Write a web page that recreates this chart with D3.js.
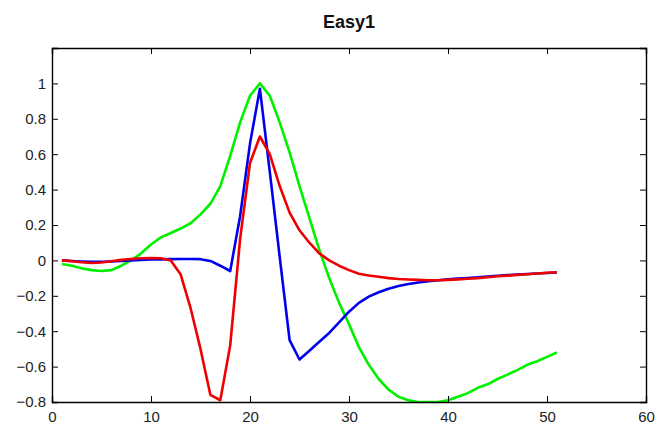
<!DOCTYPE html>
<html>
<head>
<meta charset="utf-8">
<script src="https://cdn.jsdelivr.net/npm/d3@7"></script>
<style>
  html, body { margin: 0; padding: 0; background: #fff; }
  svg { display: block; }
</style>
</head>
<body>
<svg id="chart" width="660" height="430"></svg>
<script>
const title = "Easy1";
const xValues = d3.range(1, 52);
const greenSeries = [-0.02,-0.03,-0.045,-0.055,-0.06,-0.055,-0.03,0.0,0.04,0.09,
  0.13,0.155,0.18,0.21,0.26,0.32,0.42,0.59,0.78,0.93,
  1.0,0.93,0.78,0.61,0.42,0.24,0.06,-0.1,-0.24,-0.36,
  -0.49,-0.59,-0.67,-0.73,-0.77,-0.79,-0.80,-0.80,-0.80,-0.79,
  -0.77,-0.75,-0.72,-0.70,-0.67,-0.645,-0.62,-0.59,-0.57,-0.545,-0.52];
const blueSeries = [0.0,-0.003,-0.006,-0.008,-0.008,-0.006,-0.003,0.0,0.003,0.005,
  0.006,0.007,0.008,0.008,0.007,-0.003,-0.03,-0.06,0.25,0.66,
  0.97,0.50,0.02,-0.45,-0.56,-0.51,-0.46,-0.41,-0.35,-0.29,
  -0.24,-0.205,-0.18,-0.16,-0.145,-0.133,-0.125,-0.118,-0.112,-0.107,
  -0.103,-0.099,-0.095,-0.091,-0.087,-0.083,-0.08,-0.077,-0.074,-0.071,-0.068];
const redSeries = [0.0,-0.005,-0.01,-0.015,-0.012,-0.005,0.003,0.008,0.012,0.013,
  0.012,0.0,-0.08,-0.27,-0.5,-0.76,-0.79,-0.48,0.12,0.55,
  0.70,0.60,0.42,0.27,0.17,0.10,0.04,0.0,-0.03,-0.055,
  -0.075,-0.085,-0.092,-0.1,-0.105,-0.108,-0.11,-0.112,-0.112,-0.11,
  -0.107,-0.104,-0.1,-0.095,-0.09,-0.086,-0.082,-0.078,-0.074,-0.07,-0.067];
const seriesNames = ["green", "blue", "red"];
const seriesColors = ["#00f000", "#0000ee", "#ee0000"];
const xTicks = [0, 10, 20, 30, 40, 50, 60];
const yTicks = [-0.8, -0.6, -0.4, -0.2, 0, 0.2, 0.4, 0.6, 0.8, 1];
const yTickMarks = [-0.8, -0.6, -0.4, -0.2, 0, 0.2, 0.4, 0.6, 0.8, 1, 1.2];

const svg = d3.select("#chart");
const m = { left: 52, right: 14, top: 48, bottom: 28 };
const W = 660, H = 430;
const x = d3.scaleLinear().domain([0, 60]).range([m.left, W - m.right]);
const y = d3.scaleLinear().domain([-0.8, 1.2]).range([H - m.bottom, m.top]);
const font = "'Liberation Sans', Arial, Helvetica, sans-serif";

svg.append("text")
  .attr("x", (x.range()[0] + x.range()[1]) / 2)
  .attr("y", 28)
  .attr("text-anchor", "middle")
  .attr("font-family", font)
  .attr("font-weight", "bold")
  .attr("font-size", 18)
  .attr("fill", "#111")
  .text(title);

const clip = svg.append("clipPath").attr("id", "clip")
  .append("rect")
  .attr("x", x.range()[0]).attr("y", y.range()[1])
  .attr("width", x.range()[1] - x.range()[0])
  .attr("height", y.range()[0] - y.range()[1]);

const allSeries = [greenSeries, blueSeries, redSeries];
const line = d3.line().x((d, i) => x(xValues[i])).y(d => y(d)).curve(d3.curveLinear);
const g = svg.append("g").attr("clip-path", "url(#clip)");
allSeries.forEach((s, k) => {
  g.append("path")
    .datum(s)
    .attr("class", "series-" + seriesNames[k])
    .attr("d", line)
    .attr("fill", "none")
    .attr("stroke", seriesColors[k])
    .attr("stroke-width", 2.6)
    .attr("stroke-linejoin", "round");
});

const fmt = v => (v < 0 ? "\u2212" : "") + d3.format("")(Math.abs(+v.toFixed(1)));
const tickLen = 6;

const axB = svg.append("g").attr("transform", `translate(0,${y.range()[0]})`)
  .call(d3.axisBottom(x).tickValues(xTicks).tickSize(-tickLen).tickPadding(9).tickFormat(d3.format("d")));
const axT = svg.append("g").attr("transform", `translate(0,${y.range()[1]})`)
  .call(d3.axisTop(x).tickValues(xTicks).tickSize(-tickLen).tickFormat(""));
const axL = svg.append("g").attr("transform", `translate(${x.range()[0]},0)`)
  .call(d3.axisLeft(y).tickValues(yTickMarks).tickSize(-tickLen).tickPadding(6)
    .tickFormat(v => yTicks.some(t => Math.abs(t - v) < 1e-9) ? fmt(v) : ""));
const axR = svg.append("g").attr("transform", `translate(${x.range()[1]},0)`)
  .call(d3.axisRight(y).tickValues(yTickMarks).tickSize(-tickLen).tickFormat(""));

[axB, axT, axL, axR].forEach(a => {
  a.select(".domain").attr("stroke", "#000").attr("stroke-width", 1.4);
  a.selectAll(".tick line").attr("stroke", "#000").attr("stroke-width", 1);
  a.selectAll("text").attr("font-family", font).attr("font-size", 15).attr("fill", "#222");
});
</script>
</body>
</html>
